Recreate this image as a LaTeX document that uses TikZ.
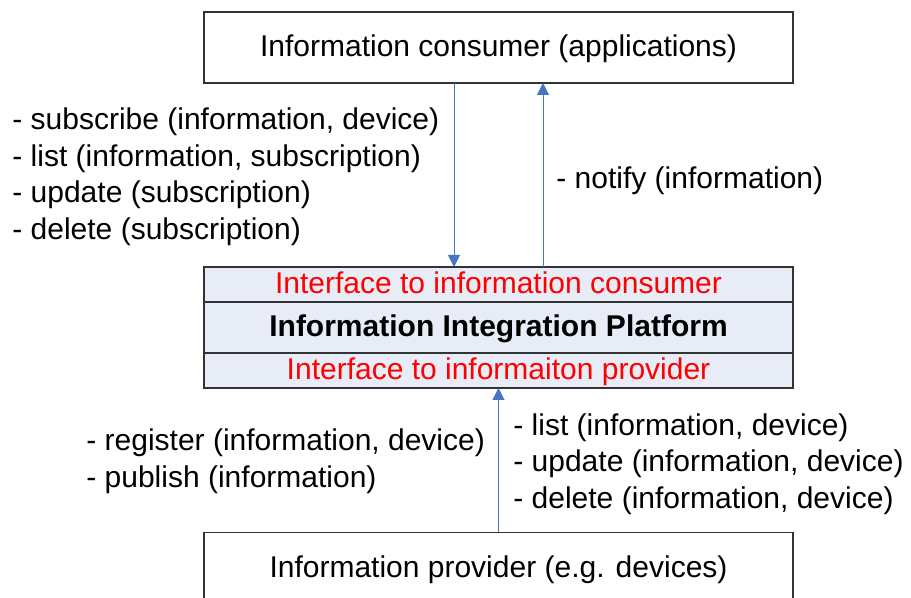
\documentclass[tikz,border=0pt]{standalone}
\usepackage{fontspec}
\setmainfont{Liberation Sans}
\usetikzlibrary{arrows.meta, positioning}

\definecolor{platfill}{RGB}{231,236,246}
\definecolor{arrowblue}{RGB}{72,116,196}
\definecolor{ifred}{RGB}{255,0,0}

\begin{document}
\begin{tikzpicture}[
  x=0.5pt, y=-0.5pt,
  box/.style={rectangle, draw=black!80, line width=0.6pt, minimum width=294.5pt,
              text centered, inner sep=0pt, outer sep=0pt, text height=12pt, text depth=2.5pt,
              font=\fontsize{15}{18}\selectfont},
  endbox/.style={box, fill=white, minimum height=35.5pt},
  ifbox/.style={box, fill=platfill, text=ifred, minimum height=17.5pt},
  platbox/.style={box, fill=platfill, minimum height=25.5pt, font=\fontsize{15}{18}\selectfont\bfseries},
  ops/.style={align=left, inner sep=0pt, anchor=west, yshift=-1.25pt, font=\fontsize{15}{18.25}\selectfont},
  arr/.style={-{Triangle[length=6pt, width=6pt]}, draw=arrowblue, fill=arrowblue, line width=0.5pt},
]
\useasboundingbox (0,0) rectangle (911,598);
\clip (0,0) rectangle (911,598);

%% Nodes
\node[endbox]                    (cons)  at (498.5,47.5) {Information consumer (applications)};
\node[ifbox]                     (ifcon) at (498.5,284.5) {Interface to information consumer};
\node[platbox, below=0pt of ifcon] (plat)  {Information Integration Platform};
\node[ifbox,   below=0pt of plat]  (ifpro) {Interface to informaiton provider};
\node[endbox]                    (prov)  at (498.5,568) {Information provider (e.g. devices)};

%% Operation labels
\node[ops] (consops) at (12,174)  {- subscribe (information, device)\\- list (information, subscription)\\- update (subscription)\\- delete (subscription)};
\node[ops] (notify)  at (556,178) {- notify (information)};
\node[ops] (provops) at (86,458.5) {- register (information, device)\\- publish (information)};
\node[ops] (mgmtops) at (513,461.5) {- list (information, device)\\- update (information, device)\\- delete (information, device)};

%% Arrows
\draw[arr] ([xshift=-22.25pt]cons.south) -- ([xshift=-22.25pt]ifcon.north);
\draw[arr] ([xshift=22.25pt]ifcon.north) -- ([xshift=22.25pt]cons.south);
\draw[arr] (prov.north) -- (ifpro.south);

\end{tikzpicture}
\end{document}
